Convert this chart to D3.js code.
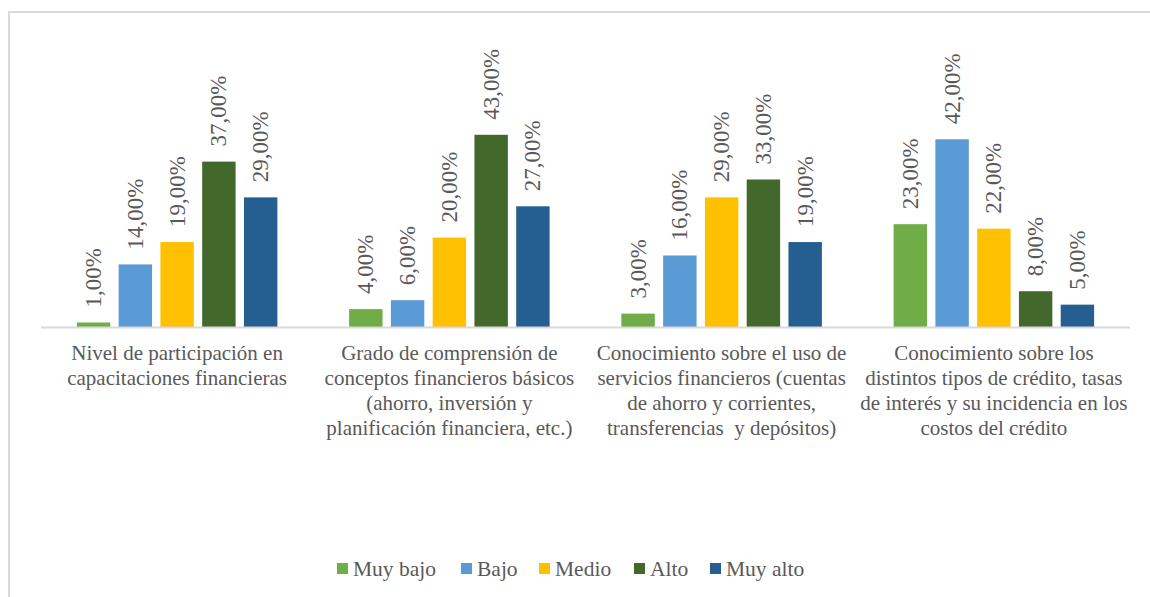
<!DOCTYPE html>
<html>
<head>
<meta charset="utf-8">
<script src="https://cdn.jsdelivr.net/npm/d3@7"></script>
<style>
  body { margin: 0; background: #fff; }
  svg { display: block; }
  svg text { fill: #595959; white-space: pre; }
</style>
</head>
<body>
<div id="chart"></div>
<script>
const categories = [
  ["Nivel de participación en", "capacitaciones financieras"],
  ["Grado de comprensión de", "conceptos financieros básicos", "(ahorro, inversión y", "planificación financiera, etc.)"],
  ["Conocimiento sobre el uso de", "servicios financieros (cuentas", "de ahorro y corrientes,", "transferencias  y depósitos)"],
  ["Conocimiento sobre los", "distintos tipos de crédito, tasas", "de interés y su incidencia en los", "costos del crédito"]
];
const seriesNames = ["Muy bajo", "Bajo", "Medio", "Alto", "Muy alto"];
const seriesColors = ["#70AD47", "#5B9BD5", "#FFC000", "#43682B", "#255E91"];
const muyBajo = [1, 4, 3, 23];
const bajo = [14, 6, 16, 42];
const medio = [19, 20, 29, 22];
const alto = [37, 43, 33, 8];
const muyAlto = [29, 27, 19, 5];
const seriesValues = [muyBajo, bajo, medio, alto, muyAlto];

const width = 1150, height = 597;
const svg = d3.select("#chart").append("svg")
  .attr("width", width)
  .attr("height", height)
  .style("font-family", '"Times New Roman", Times, "Liberation Serif", Tinos, "DejaVu Serif", "Noto Serif", serif');

// chart border
svg.append("rect")
  .attr("x", 9).attr("y", 12)
  .attr("width", width + 10).attr("height", height + 10)
  .attr("fill", "#fff")
  .attr("stroke", "#D9D9D9")
  .attr("stroke-width", 2);

const baseY = 327;
const groupWidth = 200.5;
const x0 = d3.scaleBand()
  .domain(d3.range(categories.length))
  .range([41, 1130]);
const x1 = d3.scaleBand()
  .domain(d3.range(seriesNames.length))
  .range([0, groupWidth])
  .paddingInner(0.2);
const y = d3.scaleLinear()
  .domain([0, 50])
  .range([baseY, baseY - 223.5]);

const groupOffset = (x0.bandwidth() - groupWidth) / 2;

const rows = [];
categories.forEach((c, ci) => {
  seriesValues.forEach((vals, si) => {
    rows.push({ ci, si, v: vals[ci] });
  });
});

svg.append("g").selectAll("rect")
  .data(rows)
  .join("rect")
  .attr("x", d => x0(d.ci) + groupOffset + x1(d.si))
  .attr("y", d => y(d.v))
  .attr("width", x1.bandwidth())
  .attr("height", d => baseY - y(d.v))
  .attr("fill", d => seriesColors[d.si]);

// axis line
svg.append("line")
  .attr("x1", x0.range()[0]).attr("x2", x0.range()[1])
  .attr("y1", baseY + 0.5).attr("y2", baseY + 0.5)
  .attr("stroke", "#D9D9D9")
  .attr("stroke-width", 2);

// data labels
svg.append("g").selectAll("text")
  .data(rows)
  .join("text")
  .attr("transform", d => {
    const cx = x0(d.ci) + groupOffset + x1(d.si) + x1.bandwidth() / 2;
    return `translate(${cx},${y(d.v) - 15}) rotate(-90)`;
  })
  .attr("dominant-baseline", "central")
  .attr("font-size", 23)
  .text(d => d.v.toFixed(2).replace(".", ",") + "%");

// category labels
const catG = svg.append("g").selectAll("text")
  .data(categories)
  .join("text")
  .attr("text-anchor", "middle")
  .attr("font-size", 21);
catG.selectAll("tspan")
  .data((d, i) => d.map(line => ({ line, i })))
  .join("tspan")
  .attr("x", d => x0(d.i) + x0.bandwidth() / 2)
  .attr("y", (d, j) => 360 + j * 25)
  .text(d => d.line);

// legend
const legendX = [337, 461, 539, 634, 710];
const legend = svg.append("g").selectAll("g")
  .data(seriesNames)
  .join("g")
  .attr("transform", (d, i) => `translate(${legendX[i]},569)`);
legend.append("rect")
  .attr("x", 0).attr("y", -6)
  .attr("width", 11).attr("height", 11)
  .attr("fill", (d, i) => seriesColors[i]);
legend.append("text")
  .attr("x", 16).attr("y", 7)
  .attr("font-size", 21.5)
  .text(d => d);
</script>
</body>
</html>
